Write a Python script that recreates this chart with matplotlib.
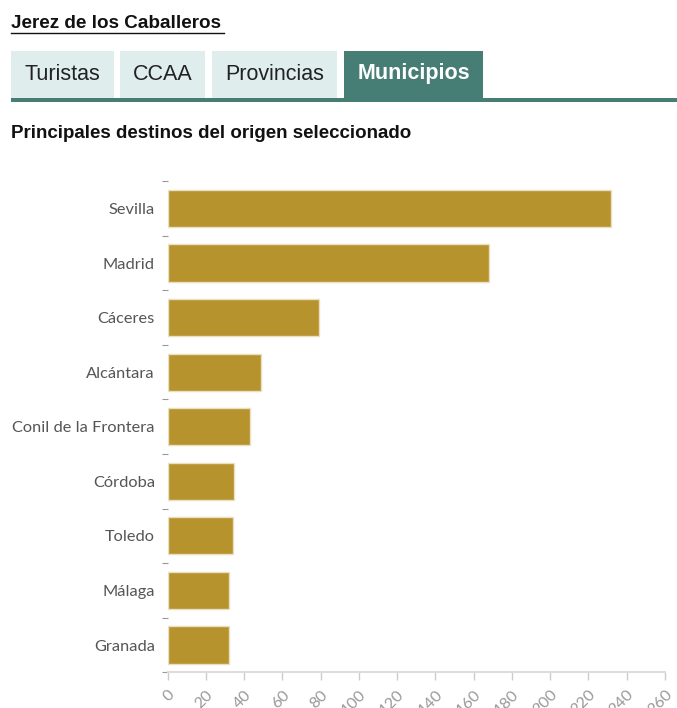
import matplotlib.pyplot as plt
from matplotlib.patches import Rectangle
from matplotlib.ticker import FixedLocator

# datos
destinos = ["Sevilla", "Madrid", "Cáceres", "Alcántara", "Conil de la Frontera",
            "Córdoba", "Toledo", "Málaga", "Granada"]
turistas = [232, 168, 79, 49, 43, 35, 34, 32, 32]
pestanas = ["Turistas", "CCAA", "Provincias", "Municipios"]
ticks_x = list(range(0, 261, 20))

W, H = 677, 708
fig = plt.figure(figsize=(W / 100, H / 100), dpi=100)
fig.patch.set_facecolor("white")


def fx(px):
    return px / W


def fy(py):
    return 1 - py / H


# ── Cabecera ─────────────────────────────
fig.text(fx(11), fy(23), "Jerez de los Caballeros", fontsize=13.6,
         fontweight="bold", family="Liberation Sans", color="#111111",
         va="center", ha="left")
fig.add_artist(plt.Line2D([fx(11), fx(224)], [fy(33), fy(33)],
                          color="#111111", linewidth=1))

# ── Pestañas ─────────────────────────────
cajas = [(11, 114), (120, 205), (212, 337), (344, 483)]
for nombre, (x0, x1) in zip(pestanas, cajas):
    activa = nombre == "Municipios"
    fig.add_artist(Rectangle((fx(x0), fy(98)), fx(x1 - x0), 47 / H,
                             facecolor="#467d74" if activa else "#dfeeed",
                             edgecolor="none", transform=fig.transFigure))
    fig.text(fx((x0 + x1) / 2), fy(74), nombre, fontsize=15.5,
             family="Liberation Sans",
             fontweight="bold" if activa else "normal",
             color="white" if activa else "#222222", ha="center", va="center")
fig.add_artist(Rectangle((fx(11), fy(102)), fx(677 - 11), 4 / H,
                         facecolor="#467d74", edgecolor="none",
                         transform=fig.transFigure))

fig.text(fx(11), fy(133), "Principales destinos del origen seleccionado",
         fontsize=13.5, fontweight="bold", family="Liberation Sans",
         color="#111111", ha="left", va="center")

# ── Gráfico de barras ────────────────────
ax = fig.add_axes([fx(167.5), fy(672.3), fx(665 - 167.5), (672.3 - 181.2) / H])
pos = list(range(len(destinos)))
ax.barh(pos, turistas, height=0.68, color="#b7932d",
        edgecolor="#eadfbf", linewidth=1)
ax.set_xlim(0, 260)
ax.set_ylim(len(destinos) - 0.5, -0.5)

for lado in ["top", "right", "left"]:
    ax.spines[lado].set_visible(False)
ax.spines["bottom"].set_color("#dddddd")
ax.spines["bottom"].set_linewidth(1.5)

ax.set_yticks(pos)
ax.set_yticklabels(destinos, fontsize=11.8, family="Lato", color="#555555")
ax.yaxis.set_minor_locator(FixedLocator([p - 0.5 for p in pos] + [len(pos) - 0.5]))
ax.tick_params(axis="y", which="major", length=0, pad=9)
ax.tick_params(axis="y", which="minor", length=4, color="#999999", width=0.8)

ax.set_xticks(ticks_x)
ax.set_xticklabels([str(v) for v in ticks_x], fontsize=11.5, family="Lato",
                   color="#999999", rotation=45, ha="right",
                   rotation_mode="anchor")
ax.tick_params(axis="x", length=6, color="#cccccc", width=1, pad=5)

plt.savefig("out.png", dpi=100, facecolor="white")
